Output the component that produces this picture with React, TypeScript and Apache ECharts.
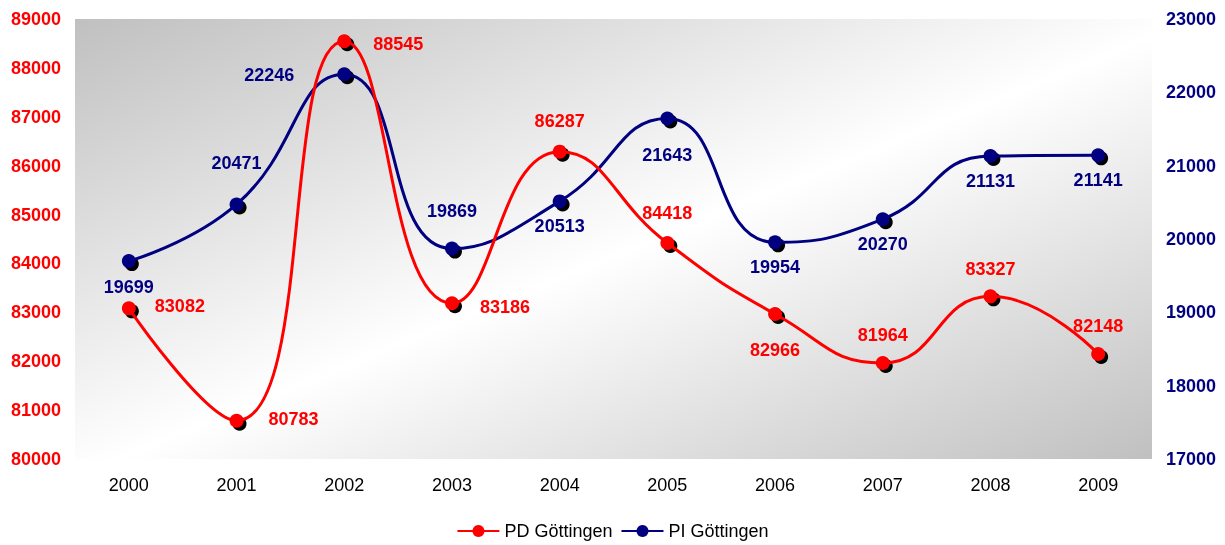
import React, { useEffect, useRef } from "react";
import * as echarts from "echarts";

const years = ["2000", "2001", "2002", "2003", "2004", "2005", "2006", "2007", "2008", "2009"];
const pdValues = [83082, 80783, 88545, 83186, 86287, 84418, 82966, 81964, 83327, 82148];
const piValues = [19699, 20471, 22246, 19869, 20513, 21643, 19954, 20270, 21131, 21141];
const leftTicks = { min: 80000, max: 89000, interval: 1000 };
const rightTicks = { min: 17000, max: 23000, interval: 1000 };

// label placement: [position, distance, dx, dy]
const pdLabelPlace: [string, number, number, number][] = [
  ["right", 19, 0, -2],
  ["right", 25, 0, -2],
  ["right", 22, 0, 3],
  ["right", 21, 0, 4],
  ["top", 15, 0, 0],
  ["top", 14, 0, 0],
  ["bottom", 20, 0, 0],
  ["top", 12, 0, 0],
  ["top", 11, 0, 0],
  ["top", 12, 0, 0],
];
const piLabelPlace: [string, number, number, number][] = [
  ["bottom", 10, 0, 0],
  ["top", 25, 0, 0],
  ["left", 43, 0, 1],
  ["top", 22, 0, 0],
  ["bottom", 9, 0, 0],
  ["bottom", 20, 0, 0],
  ["bottom", 9, 0, 0],
  ["bottom", 9, 0, 0],
  ["bottom", 9, 0, 0],
  ["bottom", 9, 0, 0],
];

const RED = "#ff0000";
const NAVY = "#000080";
const FONT = "'Liberation Sans', Arial, sans-serif";
const plain = (v: number) => String(v);

function buildData(values: number[], place: [string, number, number, number][], color: string) {
  return values.map((v, i) => ({
    value: v,
    label: {
      show: true,
      position: place[i][0],
      distance: place[i][1],
      offset: [place[i][2], place[i][3]],
      color,
      fontSize: 18,
      fontWeight: "bold",
      fontFamily: FONT,
      formatter: (p: any) => String(p.value),
    },
  }));
}

export default function App() {
  const ref = useRef<HTMLDivElement>(null);
  useEffect(() => {
    document.body.style.margin = "0";
    const chart = echarts.init(ref.current!, null, { renderer: "svg" });
    chart.setOption({
      animation: false,
      grid: {
        left: 75,
        right: 73,
        top: 19,
        bottom: 86,
        show: true,
        borderWidth: 0,
        backgroundColor: new echarts.graphic.LinearGradient(0, 0, 1, 1, [
          { offset: 0, color: "#c0c0c0" },
          { offset: 0.52, color: "#ffffff" },
          { offset: 1, color: "#c0c0c0" },
        ]),
      },
      legend: {
        data: ["PD Göttingen", "PI Göttingen"],
        bottom: 0,
        left: "center",
        itemWidth: 42,
        itemHeight: 15,
        itemGap: 8,
        textStyle: { fontSize: 18, color: "#000", fontFamily: FONT },
      },
      xAxis: {
        type: "category",
        data: years,
        boundaryGap: true,
        axisLine: { show: false },
        axisTick: { show: false },
        axisLabel: { margin: 17, fontSize: 18, color: "#000", fontFamily: FONT },
      },
      yAxis: [
        {
          type: "value",
          position: "left",
          ...leftTicks,
          splitLine: { show: false },
          axisLine: { show: false },
          axisTick: { show: false },
          axisLabel: { margin: 14, fontSize: 18, fontWeight: "bold", color: RED, fontFamily: FONT, formatter: plain },
        },
        {
          type: "value",
          position: "right",
          ...rightTicks,
          splitLine: { show: false },
          axisLine: { show: false },
          axisTick: { show: false },
          axisLabel: { margin: 14, fontSize: 18, fontWeight: "bold", color: NAVY, fontFamily: FONT, formatter: plain },
        },
      ],
      series: [
        {
          name: "pdShadow",
          type: "line",
          yAxisIndex: 0,
          data: pdValues,
          symbol: "circle",
          symbolSize: 14,
          symbolOffset: [3, 3],
          itemStyle: { color: "#000" },
          lineStyle: { width: 0, opacity: 0 },
          silent: true,
          z: 2,
        },
        {
          name: "piShadow",
          type: "line",
          yAxisIndex: 1,
          data: piValues,
          symbol: "circle",
          symbolSize: 14,
          symbolOffset: [3, 3],
          itemStyle: { color: "#000" },
          lineStyle: { width: 0, opacity: 0 },
          silent: true,
          z: 2,
        },
        {
          name: "PI Göttingen",
          type: "line",
          yAxisIndex: 1,
          data: buildData(piValues, piLabelPlace, NAVY),
          smooth: 0.5,
          symbol: "circle",
          symbolSize: 14,
          showAllSymbol: true,
          itemStyle: { color: NAVY },
          lineStyle: { width: 3, color: NAVY },
          z: 3,
        },
        {
          name: "PD Göttingen",
          type: "line",
          yAxisIndex: 0,
          data: buildData(pdValues, pdLabelPlace, RED),
          smooth: 0.5,
          symbol: "circle",
          symbolSize: 14,
          showAllSymbol: true,
          itemStyle: { color: RED },
          lineStyle: { width: 3, color: RED },
          z: 4,
        },
      ],
    });
    return () => chart.dispose();
  }, []);
  return <div ref={ref} style={{ position: "fixed", left: 0, top: 0, width: 1225, height: 545 }} />;
}
